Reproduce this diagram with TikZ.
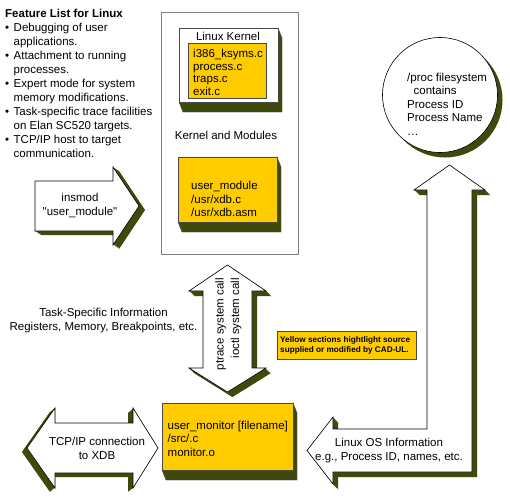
\documentclass[tikz,border=0pt]{standalone}
\usepackage{fontspec}
\setmainfont{Liberation Sans}[Ligatures=TeXOff]
\definecolor{ylw}{HTML}{FFCC00}
\definecolor{olv}{HTML}{3D4A0C}
\definecolor{edge}{HTML}{4A4A4A}
\newcommand{\insmodpath}{(35,181) -- (113,181) -- (113,167) -- (139,206) -- (113,245) -- (113,231) -- (35,231) -- cycle}
\newcommand{\ptracepath}{(227.5,265) -- (266,291) -- (252,291) -- (252,368) -- (266,368) -- (227.5,392) -- (189,368) -- (203,368) -- (203,291) -- (189,291) -- cycle}
\newcommand{\tcppath}{(27,448) -- (55,408) -- (55,423) -- (133,423) -- (133,408) -- (158,448) -- (133,488) -- (133,473) -- (55,473) -- (55,488) -- cycle}
\newcommand{\lpath}{(449.5,165) -- (485,190) -- (472,190) -- (472,472) -- (333,472) -- (333,484) -- (307,450.5) -- (333,417) -- (333,429) -- (427,429) -- (427,190) -- (414,190) -- cycle}
\begin{document}
\begin{tikzpicture}[x=1pt,y=-1pt,
  every node/.style={inner sep=0pt, font=\fontsize{11.5}{14}\selectfont},
  txt/.style={anchor=base west},
  ctr/.style={align=center},
  face/.style={fill=white, draw=black, line width=0.6pt},
  yface/.style={fill=ylw, draw=edge, line width=0.7pt},
  ext/.style={fill=olv, draw=black!70, line width=0.4pt},
  frame/.style={draw=gray, line width=0.8pt, fill=white}]
\useasboundingbox[fill=white] (0,0) rectangle (510,496);

% feature list
\node[txt,font=\bfseries\fontsize{11.5}{14}\selectfont] (fl0) at (5,17) {Feature List for Linux};
\node[txt] (fl1) at (5,31) {\makebox[8.5pt][l]{\textbullet}Debugging of user};
\node[txt] (fl2) at (13.5,45) {applications.};
\node[txt] (fl3) at (5,59) {\makebox[8.5pt][l]{\textbullet}Attachment to running};
\node[txt] (fl4) at (13.5,73) {processes.};
\node[txt] (fl5) at (5,87) {\makebox[8.5pt][l]{\textbullet}Expert mode for system};
\node[txt] (fl6) at (13.5,101) {memory modifications.};
\node[txt] (fl7) at (5,115) {\makebox[8.5pt][l]{\textbullet}Task-specific trace facilities};
\node[txt] (fl8) at (13.5,129) {on Elan SC520 targets.};
\node[txt] (fl9) at (5,143) {\makebox[8.5pt][l]{\textbullet}TCP/IP host to target};
\node[txt] (fl10) at (13.5,157) {communication.};

% kernel and modules frame
\draw[frame] (161,12) rectangle (298,254);

% Linux kernel box
\filldraw[ext] (278,28) -- (282,38) -- (282,112) -- (183,112) -- (179,102) -- (278,102) -- cycle;
\draw[face, draw=edge] (179,28) rectangle (278,102);
\node (lk) at (228,36) {Linux Kernel};
\draw[yface] (188,43) rectangle (266,98);
\node[txt] (k1) at (193,57.5) {i386\_ksyms.c};
\node[txt] (k2) at (193,70) {process.c};
\node[txt] (k3) at (193,82.5) {traps.c};
\node[txt] (k4) at (193,95) {exit.c};
\node (km) at (226,135) {Kernel and Modules};

% user module box
\filldraw[ext] (277,157) -- (281,167) -- (281,232) -- (182,232) -- (178,222) -- (277,222) -- cycle;
\draw[yface] (178,157) rectangle (277,222);
\node[txt] (um1) at (191,189) {user\_module};
\node[txt] (um2) at (191,203) {/usr/xdb.c};
\node[txt] (um3) at (191,216.5) {/usr/xdb.asm};

% insmod arrow
\foreach \s in {0,0.5,...,6} { \fill[olv, shift={(\s,\s*4/6)}] \insmodpath; }
\draw[face] \insmodpath;
\node[ctr] (ins) at (80,205) {insmod\\"user\_module"};

% ptrace arrow
\foreach \s in {0,0.5,...,5} { \fill[olv, shift={(\s,\s)}] \ptracepath; }
\draw[face] \ptracepath;
\node[rotate=90, align=right, font=\fontsize{11.5}{15.5}\selectfont] (pt) at (228.5,324) {ptrace system call\\ioctl system call};

% task specific text
\node[ctr] (task) at (103.5,320.5) {Task-Specific Information\\Registers, Memory, Breakpoints, etc.};

% yellow note
\draw[yface, line width=0.6pt] (277,331) rectangle (416,359);
\node[anchor=west, align=left, font=\bfseries\fontsize{8.2}{10}\selectfont] (note) at (280,345) {Yellow sections hightlight source\\supplied or modified by CAD-UL.};

% user monitor box
\filldraw[ext] (293,403) -- (297,413) -- (297,480) -- (166,480) -- (162,470) -- (293,470) -- cycle;
\draw[yface] (162,403) rectangle (293,470);
\node[txt] (mon1) at (167.5,429) {user\_monitor [filename]};
\node[txt] (mon2) at (167.5,442.5) {/src/.c};
\node[txt] (mon3) at (167.5,456) {monitor.o};

% TCP arrow
\foreach \s in {0,0.5,...,5} { \fill[olv, shift={(-\s,\s*4/5)}] \tcppath; }
\draw[face] \tcppath;
\node[ctr] (tcp) at (97,448) {TCP/IP connection\\to XDB};

% L arrow
\foreach \s in {0,0.5,...,5} { \fill[olv, shift={(\s,\s)}] \lpath; }
\draw[face] \lpath;
\node[ctr] (os) at (389,450.5) {Linux OS Information\\e.g., Process ID, names, etc.};

% proc circle
\fill[olv] (445,100) circle[radius=57.5pt];
\draw[face] (440,95) circle[radius=57.5pt];
\node[txt] (p1) at (407,81) {/proc filesystem};
\node[txt] (p2) at (413.5,94.5) {contains};
\node[txt] (p3) at (407,108) {Process ID};
\node[txt] (p4) at (407,121.5) {Process Name};
\node[txt] (p5) at (407,135) {\dots};
\end{tikzpicture}
\end{document}
